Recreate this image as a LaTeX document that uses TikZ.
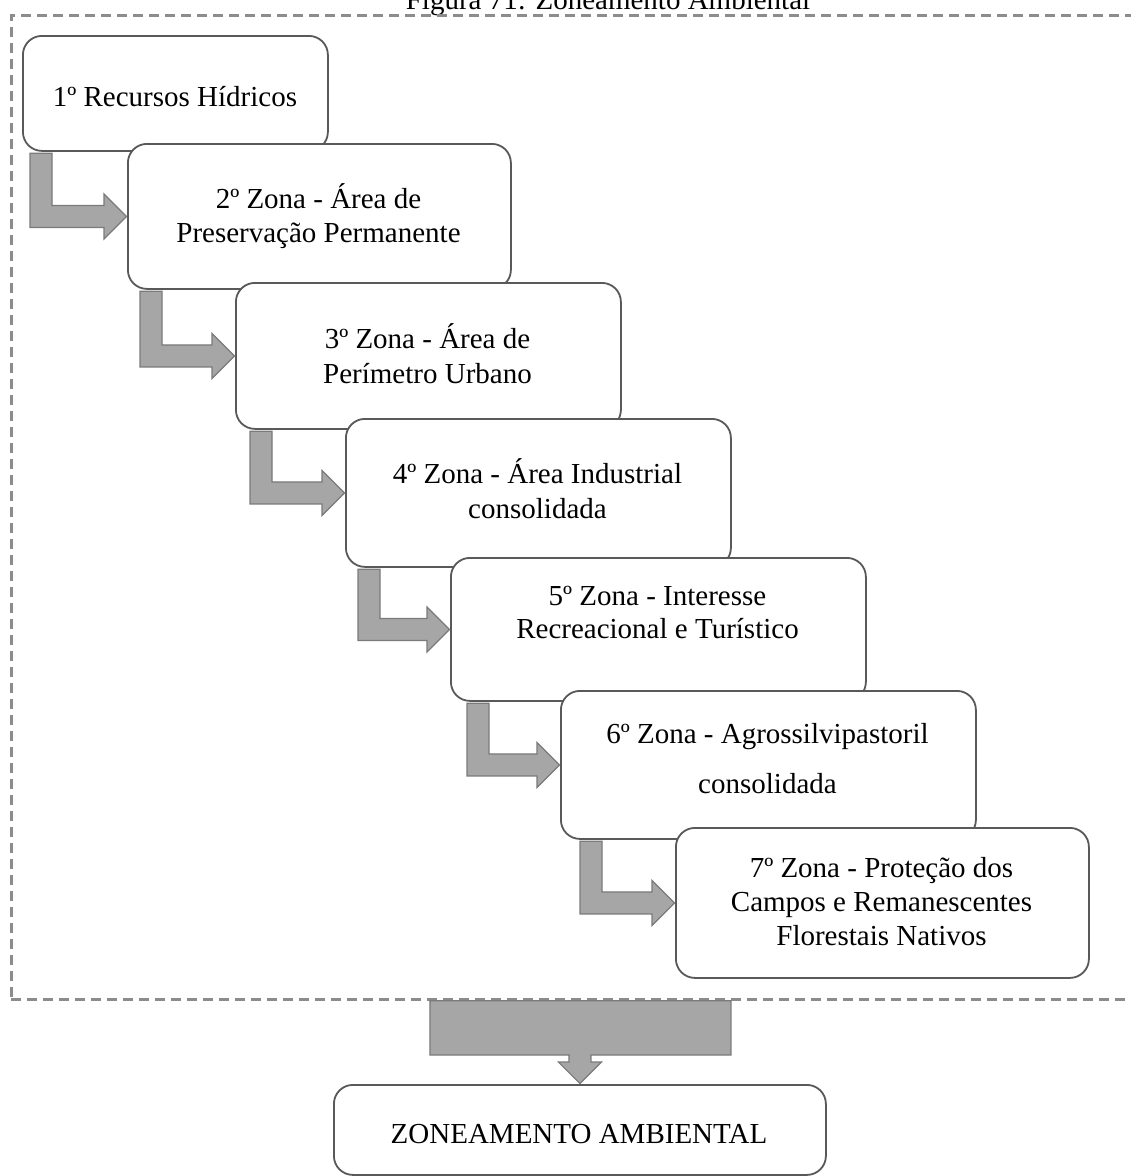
\documentclass[tikz,border=0pt]{standalone}
\usepackage{fontspec}
\setmainfont{Liberation Serif}
\usetikzlibrary{calc}
\definecolor{boxline}{HTML}{595959}
\definecolor{arrowfill}{HTML}{A6A6A6}
\definecolor{arrowline}{HTML}{7A7A7A}
\definecolor{frameline}{HTML}{8C8C8C}
% bent block arrow from the bottom of one stage to the left side of the next
\newcommand\bendarrow[3]{%
  \path let \p1=(#1.south west), \p2=(#2.west) in
    [blockarrow]
    ({\x1+#3}, {\y1-1.5pt}) -- ({\x1+#3+22pt}, {\y1-1.5pt})
    -- ({\x1+#3+22pt}, {\y2+11pt}) -- ({\x2-23pt}, {\y2+11pt})
    -- ({\x2-23pt}, {\y2+22.5pt}) -- ({\x2-0.5pt}, {\y2})
    -- ({\x2-23pt}, {\y2-22.5pt}) -- ({\x2-23pt}, {\y2-11pt})
    -- ({\x1+#3}, {\y2-11pt}) -- cycle;}
\begin{document}
\begin{tikzpicture}[x=1pt,y=-1pt,
  stage/.style={draw=boxline, line width=1.8pt, rounded corners=19pt, fill=white,
    inner sep=0pt, anchor=north west},
  boxtext/.style={anchor=base, inner sep=0pt, font=\fontsize{29}{34}\selectfont, text=black},
  blockarrow/.style={fill=arrowfill, draw=arrowline, line width=1.2pt, line join=miter},
  panel/.style={draw=frameline, line width=2.8pt, dash pattern=on 10pt off 6pt,
    inner sep=0pt, anchor=north west}]
\useasboundingbox (0,0) rectangle (1131,1176);
\fill[white] (0,0) rectangle (1131,1176);

% title and dashed panel
\node[boxtext] (title) at (608,9) {Figura 71: Zoneamento Ambiental};
\node[panel, minimum width=1150pt, minimum height=984pt] (panel) at (10,14) {};

% stages, each one lying over the previous one
\node[stage, minimum width=305pt, minimum height=115pt] (b1) at (22,35) {};
\node[boxtext] (t1) at (175,106) {1º Recursos Hídricos};

\node[stage, minimum width=383pt, minimum height=145pt] (b2) at (127,143) {};
\node[boxtext] (t2a) at (318.5,208) {2º Zona - Área de};
\node[boxtext] (t2b) at (318.5,242) {Preservação Permanente};

\node[stage, minimum width=385pt, minimum height=146pt] (b3) at (235,282) {};
\node[boxtext] (t3a) at (427.5,348) {3º Zona - Área de};
\node[boxtext] (t3b) at (427.5,383) {Perímetro Urbano};

\node[stage, minimum width=385pt, minimum height=148pt] (b4) at (345,418) {};
\node[boxtext] (t4a) at (537.5,483) {4º Zona - Área Industrial};
\node[boxtext] (t4b) at (537.5,518) {consolidada};

\node[stage, minimum width=415pt, minimum height=143pt] (b5) at (450,557) {};
\node[boxtext] (t5a) at (657.5,605) {5º Zona - Interesse};
\node[boxtext] (t5b) at (657.5,638) {Recreacional e Turístico};

\node[stage, minimum width=415pt, minimum height=148pt] (b6) at (560,690) {};
\node[boxtext] (t6a) at (767.5,743) {6º Zona - Agrossilvipastoril};
\node[boxtext] (t6b) at (767.5,793) {consolidada};

\node[stage, minimum width=413pt, minimum height=150pt] (b7) at (675,827) {};
\node[boxtext] (t7a) at (881.5,877) {7º Zona - Proteção dos};
\node[boxtext] (t7b) at (881.5,911) {Campos e Remanescentes};
\node[boxtext] (t7c) at (881.5,945) {Florestais Nativos};

% bent arrows between the stages
\bendarrow{b1}{b2}{8pt}
\bendarrow{b2}{b3}{13pt}
\bendarrow{b3}{b4}{15pt}
\bendarrow{b4}{b5}{13pt}
\bendarrow{b5}{b6}{17pt}
\bendarrow{b6}{b7}{20pt}

% result
\node[stage, minimum width=492pt, minimum height=90pt] (fin) at (333,1084) {};
\node[boxtext] (tfin) at (579,1143) {ZONEAMENTO AMBIENTAL};
\path let \p1=(panel.south), \p2=(fin.north) in
  [blockarrow]
  ({\x2-150pt}, {\y1}) -- ({\x2+151pt}, {\y1}) -- ({\x2+151pt}, {\y2+29pt})
  -- ({\x2+11pt}, {\y2+29pt}) -- ({\x2+11pt}, {\y2+22pt}) -- ({\x2+21.5pt}, {\y2+22pt})
  -- ({\x2}, {\y2+0.5pt}) -- ({\x2-21.5pt}, {\y2+22pt}) -- ({\x2-11pt}, {\y2+22pt})
  -- ({\x2-11pt}, {\y2+29pt}) -- ({\x2-150pt}, {\y2+29pt}) -- cycle;
\end{tikzpicture}
\end{document}
